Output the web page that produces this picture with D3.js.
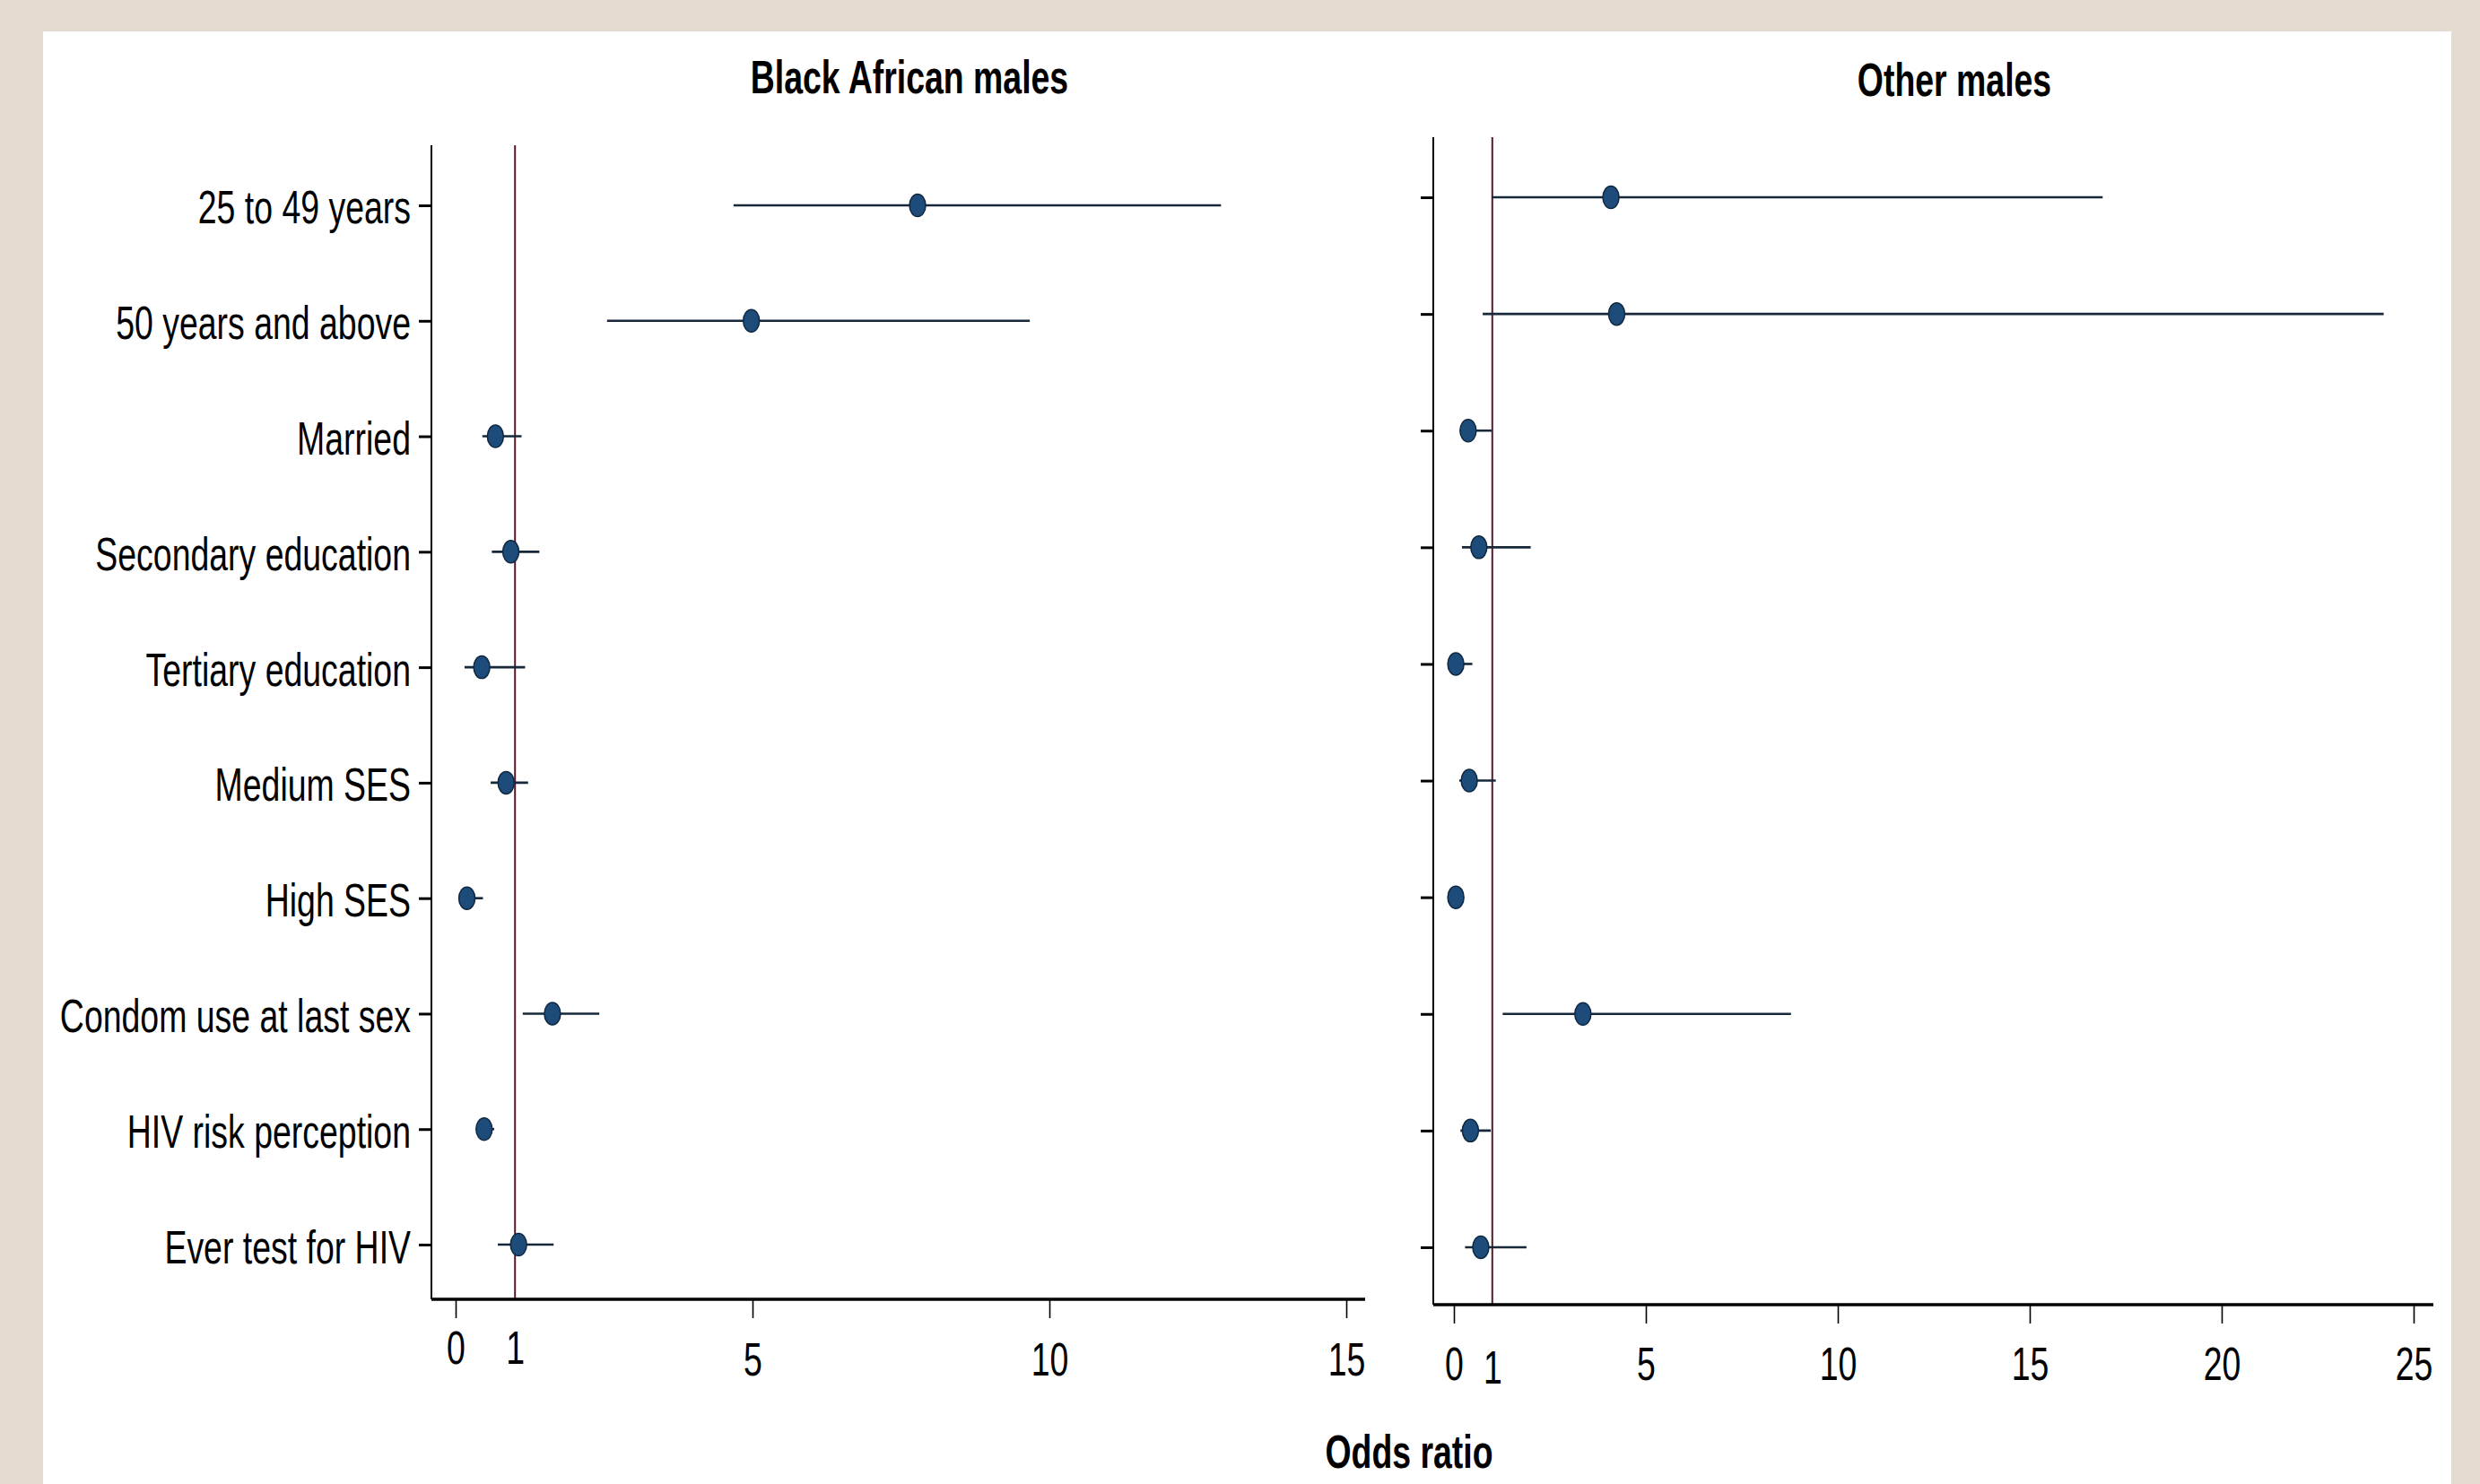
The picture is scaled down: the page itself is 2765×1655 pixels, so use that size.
<!DOCTYPE html>
<html>
<head>
<meta charset="utf-8">
<script src="https://cdn.jsdelivr.net/npm/d3@7"></script>
<style>
  html, body { margin: 0; padding: 0; background: #e3dad0; }
  svg { display: block; }
  text { font-family: "Liberation Sans", Arial, sans-serif; fill: #000; }
</style>
</head>
<body>
<svg id="chart" width="2765" height="1655"></svg>
<script>
// ---------------- data ----------------
const categories = [
  "25 to 49 years", "50 years and above", "Married", "Secondary education",
  "Tertiary education", "Medium SES", "High SES", "Condom use at last sex",
  "HIV risk perception", "Ever test for HIV"
];
// Black African males: odds ratio and 95% CI
const baOR = [7.78, 4.98, 0.67, 0.93, 0.44, 0.85, 0.19, 1.63, 0.48, 1.06];
const baLo = [4.68, 2.55, 0.45, 0.61, 0.15, 0.59, 0.06, 1.13, 0.40, 0.71];
const baHi = [12.89, 9.67, 1.11, 1.41, 1.17, 1.22, 0.46, 2.42, 0.65, 1.65];
// Other males: odds ratio and 95% CI
const omOR = [4.09, 4.24, 0.37, 0.65, 0.05, 0.40, 0.05, 3.36, 0.43, 0.70];
const omLo = [0.98, 0.75, 0.16, 0.21, 0.01, 0.14, 0.02, 1.27, 0.17, 0.29];
const omHi = [16.90, 24.22, 0.98, 2.00, 0.48, 1.09, 0.12, 8.78, 0.96, 1.89];
const baTicks = [0, 1, 5, 10, 15];
const omTicks = [0, 1, 5, 10, 15, 20, 25];
const panelTitles = ["Black African males", "Other males"];
const xTitle = "Odds ratio";
const refValue = 1;

// ---------------- layout ----------------
const SX = 0.72;              // horizontal text condensation of the original figure
const FONT = 52;
const svg = d3.select("#chart");

svg.append("rect").attr("x", 0).attr("y", 0).attr("width", 2765).attr("height", 1655).attr("fill", "#e3dad0");
svg.append("rect").attr("x", 48).attr("y", 35).attr("width", 2685).attr("height", 1620).attr("fill", "#ffffff");

const panels = [
  { title: panelTitles[0], or: baOR, lo: baLo, hi: baHi, ticks: baTicks,
    xDom: [0, 15], xRng: [508, 1501], xLine: [481, 1522], yLine: [162, 1449], yRng: [164.6, 1452.4],
    titleX: 1014, titleY: 104, showLabels: true, lowDy: 72, tickDy: 85, oneDy: 72 },
  { title: panelTitles[1], or: omOR, lo: omLo, hi: omHi, ticks: omTicks,
    xDom: [0, 25], xRng: [1621, 2691], xLine: [1598, 2713], yLine: [153, 1455], yRng: [155, 1456],
    titleX: 2179, titleY: 107, showLabels: false, lowDy: 84, tickDy: 84, oneDy: 88 }
];

function condense(sel, tx, ty) {
  sel.attr("x", 0).attr("y", 0).attr("dy", null)
     .attr("transform", `translate(${tx},${ty}) scale(${SX},1)`);
}

panels.forEach(p => {
  const x = d3.scaleLinear().domain(p.xDom).range(p.xRng);
  const y = d3.scalePoint().domain(categories).range(p.yRng).padding(0.5);
  const g = svg.append("g");
  const axisX = p.xLine[0];
  const axisY = p.yLine[1];

  // title
  g.append("text").text(p.title)
    .attr("text-anchor", "middle").attr("font-weight", "bold").attr("font-size", FONT)
    .call(s => condense(s, p.titleX, p.titleY));

  // reference line at OR = 1
  g.append("line")
    .attr("x1", x(refValue)).attr("x2", x(refValue))
    .attr("y1", p.yLine[0]).attr("y2", axisY)
    .attr("stroke", "#561a2a").attr("stroke-width", 2);

  // y axis
  const yAxis = d3.axisLeft(y).tickSize(14).tickSizeOuter(0);
  const ya = g.append("g").attr("transform", `translate(${axisX},0)`).call(yAxis);
  ya.select(".domain").remove();
  ya.selectAll(".tick line").attr("stroke", "#000").attr("stroke-width", 3);
  if (p.showLabels) {
    ya.selectAll(".tick text")
      .attr("font-size", FONT).attr("fill", "#000")
      .attr("font-family", "'Liberation Sans', Arial, sans-serif")
      .each(function() { condense(d3.select(this), -23, 20); });
  } else {
    ya.selectAll(".tick text").remove();
  }
  g.append("line").attr("x1", axisX).attr("x2", axisX)
    .attr("y1", p.yLine[0]).attr("y2", axisY)
    .attr("stroke", "#000").attr("stroke-width", 2);

  // x axis
  const xAxis = d3.axisBottom(x).tickValues(p.ticks).tickSize(21).tickSizeOuter(0).tickFormat(d3.format("d"));
  const xa = g.append("g").attr("transform", `translate(0,${axisY})`).call(xAxis);
  xa.select(".domain").remove();
  xa.selectAll(".tick line").attr("stroke", "#000").attr("stroke-width", 1.6)
    .attr("opacity", d => d === refValue ? 0 : 1);
  xa.selectAll(".tick text")
    .attr("font-size", FONT).attr("fill", "#000")
    .attr("font-family", "'Liberation Sans', Arial, sans-serif")
    .attr("text-anchor", "middle")
    .each(function(d) {
      const dy = d === refValue ? p.oneDy : (d === 0 ? p.lowDy : p.tickDy);
      condense(d3.select(this), 0, dy);
    });
  g.append("line").attr("x1", p.xLine[0]).attr("x2", p.xLine[1])
    .attr("y1", axisY).attr("y2", axisY)
    .attr("stroke", "#000").attr("stroke-width", 3.5);

  // confidence intervals
  g.selectAll("line.ci").data(categories).enter().append("line")
    .attr("class", "ci")
    .attr("x1", (c, i) => x(p.lo[i])).attr("x2", (c, i) => x(p.hi[i]))
    .attr("y1", c => y(c)).attr("y2", c => y(c))
    .attr("stroke", "#16283a").attr("stroke-width", 2.6);

  // point estimates
  g.selectAll("ellipse.pt").data(categories).enter().append("ellipse")
    .attr("class", "pt")
    .attr("cx", (c, i) => x(p.or[i])).attr("cy", c => y(c))
    .attr("rx", 9).attr("ry", 12.5)
    .attr("fill", "#1d4c7b").attr("stroke", "#0f2740").attr("stroke-width", 1.5);
});

// common x title
svg.append("text").text(xTitle)
  .attr("text-anchor", "middle").attr("font-weight", "bold").attr("font-size", FONT)
  .call(s => condense(s, 1571, 1637));
</script>
</body>
</html>
